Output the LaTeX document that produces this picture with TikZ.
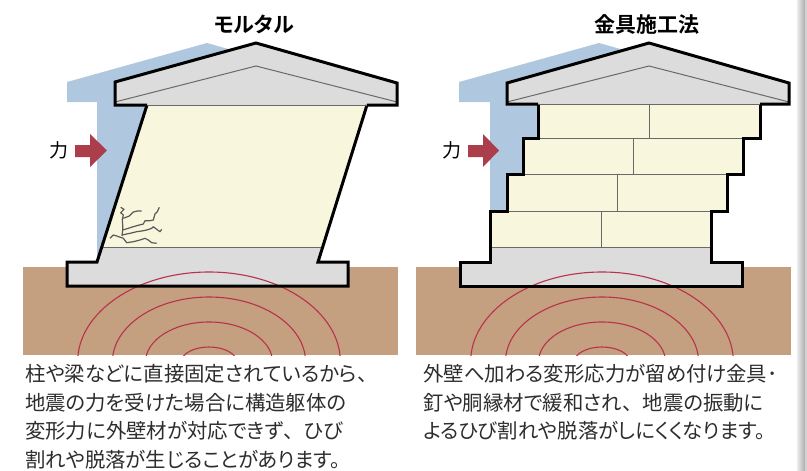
\documentclass[tikz,border=0pt]{standalone}
\usepackage{fontspec}
\newfontfamily\jp[RawFeature=+palt, BoldFont={* Bold}]{Noto Sans CJK JP}
\newfontfamily\jpfull{Noto Sans CJK JP}
\newcommand\fwcomma{{\jpfull 、}}
\definecolor{shadowblue}{RGB}{176,200,223}
\definecolor{wallcream}{RGB}{248,247,222}
\definecolor{roofgray}{RGB}{220,220,220}
\definecolor{soil}{RGB}{196,159,128}
\definecolor{forcered}{RGB}{172,62,76}
\definecolor{quake}{RGB}{184,50,75}
\definecolor{seam}{RGB}{105,105,105}
\definecolor{bodytext}{RGB}{45,45,45}
\begin{document}
\begin{tikzpicture}[x=1pt,y=-1pt,
  outline/.style={line width=3pt, line join=miter, black},
  seamline/.style={line width=1pt, seam},
  ripple/.style={line width=1.1pt, quake},
  crack/.style={line width=1.2pt, seam!85!black, line join=round},
  forcearrow/.style={fill=forcered, draw=none},
  title/.style={font=\jp\bfseries\fontsize{21}{24}\selectfont, text=black, inner sep=0pt},
  forcelabel/.style={font=\jp\fontsize{19}{22}\selectfont, text=black, inner sep=0pt},
  body/.style={font=\jp\fontsize{20.4}{28.5}\selectfont, text=bodytext, align=left, inner sep=0pt, anchor=base west}]
\useasboundingbox (0,0) rectangle (807,471);
\fill[white] (0,0) rectangle (807,471);

% ---------- left panel: mortar wall ----------
\fill[soil] (23,267) rectangle (398,355);
% upright outline of the house before it sways
\fill[shadowblue] (67,102) -- (67,82) -- (207,43) -- (348,83) -- (348,102) -- cycle;
\fill[shadowblue] (97,100) rectangle (300,262);
% roof
\fill[roofgray] (115,105) -- (115,82) -- (256,43) -- (397,83) -- (397,105) -- cycle;
% leaning wall and foundation
\fill[wallcream] (147,105) -- (367,105) -- (322.7,247) -- (101.7,247) -- cycle;
\fill[roofgray] (101.7,247) -- (322.7,247) -- (318,262) -- (348,262) -- (348,286)
  -- (67,286) -- (67,262) -- (97,262) -- cycle;
\draw[seamline] (101.7,247) -- (322.7,247);
% cracks in the mortar
\draw[crack] (120.7,207.3) -- (124,209.3) -- (120.7,212.7) -- (123.3,215) -- (122.3,219.3)
  -- (122.7,225) -- (122.7,230) -- (122,236);
\draw[crack] (123.3,218.3) -- (129.3,216) -- (133.3,212) -- (137.3,211) -- (141.7,211);
\draw[crack] (122.7,230) -- (128.3,228.3) -- (133.3,226.7) -- (139.3,225) -- (143.3,224)
  -- (145,220.7) -- (150,220.7) -- (153.3,220) -- (155,214) -- (157.3,211.7) -- (159.3,207.3);
\draw[crack] (122,235) -- (130,233.3) -- (136.7,231.7) -- (141.7,231) -- (146.7,230)
  -- (151.7,228.3) -- (153.3,226.7) -- (156.7,229.3) -- (160,231.7) -- (161.7,229.3);
\draw[crack] (110,238.3) -- (113.3,235) -- (116.7,236) -- (123.3,238.3) -- (126.7,242.7)
  -- (133.3,241.7) -- (140,240) -- (145,238.3) -- (148.3,240) -- (151.7,242.7) -- (156.7,243.3);
% seismic waves
\begin{scope}
  \clip (23,267) rectangle (398,355);
  \foreach \a/\b in {131.4/90, 96.6/65, 63.5/40, 27.7/15}
    \draw[ripple] (209,362) ellipse [x radius=\a, y radius=\b];
\end{scope}
\draw[outline] (147,105) -- (97,262) -- (67,262) -- (67,286) -- (348,286) -- (348,262)
  -- (318,262) -- (367,105);
\draw[seamline] (115,102) -- (256,66) -- (397,102);
\draw[seamline] (147,105) -- (367,105);
\draw[outline] (147,105) -- (115,105) -- (115,82) -- (256,43) -- (397,83) -- (397,105) -- (367,105);
% push from the side
\fill[forcearrow] (75,145) -- (90,145) -- (90,134) -- (107,150.5) -- (90,167) -- (90,157) -- (75,157) -- cycle;
\node[forcelabel] (forceL) at (59,150) {力};
\node[title] (titleL) at (254,24) {モルタル};
\node[body] (textL) at (25,467) {柱や梁などに直接固定されているから\fwcomma\\地震の力を受けた場合に構造躯体の\\変形力に外壁材が対応できず\fwcomma ひび\\割れや脱落が生じることがあります。};

% ---------- right panel: metal fixings ----------
\fill[soil] (416,267) rectangle (791,355);
\fill[shadowblue] (459,102) -- (459,82) -- (599,43) -- (741,83) -- (741,102) -- cycle;
\fill[shadowblue] (490,100) rectangle (700,262);
\fill[roofgray] (507,104) -- (507,83) -- (649,43) -- (789,83) -- (789,104) -- cycle;
% siding boards, each course slid a little further
\foreach \xl/\xr/\yt/\yb/\j in {538/760/104/138/649, 523/743/138/174/633,
                                 507/727/174/211/617, 490/711/211/247/601}{
  \fill[wallcream] (\xl,\yt) rectangle (\xr,\yb);
  \draw[seamline] (\j,\yt) -- (\j,\yb);
}
\fill[roofgray] (490,247) rectangle (711,262);
\fill[roofgray] (460,262) rectangle (742,286);
\draw[seamline] (523,138) -- (760,138);
\draw[seamline] (507,174) -- (743,174);
\draw[seamline] (490,211) -- (727,211);
\draw[seamline] (490,247) -- (711,247);
\begin{scope}
  \clip (416,267) rectangle (791,355);
  \foreach \a/\b in {131.4/90, 96.6/65, 63.5/40, 27.7/15}
    \draw[ripple] (602,362) ellipse [x radius=\a, y radius=\b];
\end{scope}
\draw[outline] (538,104) -- (538,138) -- (523,138) -- (523,174) -- (507,174) -- (507,211)
  -- (490,211) -- (490,262) -- (460,262) -- (460,286) -- (742,286) -- (742,262) -- (711,262)
  -- (711,211) -- (727,211) -- (727,174) -- (743,174) -- (743,138) -- (760,138) -- (760,104);
\draw[seamline] (507,102) -- (649,66) -- (789,102);
\draw[seamline] (538,104) -- (760,104);
\draw[outline] (538,104) -- (507,104) -- (507,83) -- (649,43) -- (789,83) -- (789,104) -- (760,104);
\fill[forcearrow] (468,145) -- (483,145) -- (483,134) -- (499,150.5) -- (483,167) -- (483,157) -- (468,157) -- cycle;
\node[forcelabel] (forceR) at (452,150) {力};
\node[title] (titleR) at (647,24) {金具施工法};
\node[body] (textR) at (423,438.5) {外壁へ加わる変形応力が留め付け金具･\\釘や胴縁材で緩和され\fwcomma 地震の振動に\\よるひび割れや脱落がしにくくなります。};

% page edge shadow
\shade[left color=gray!15, right color=gray!65] (797,0) rectangle (805,471);
\fill[gray!35] (805,0) rectangle (807,471);
\end{tikzpicture}
\end{document}
